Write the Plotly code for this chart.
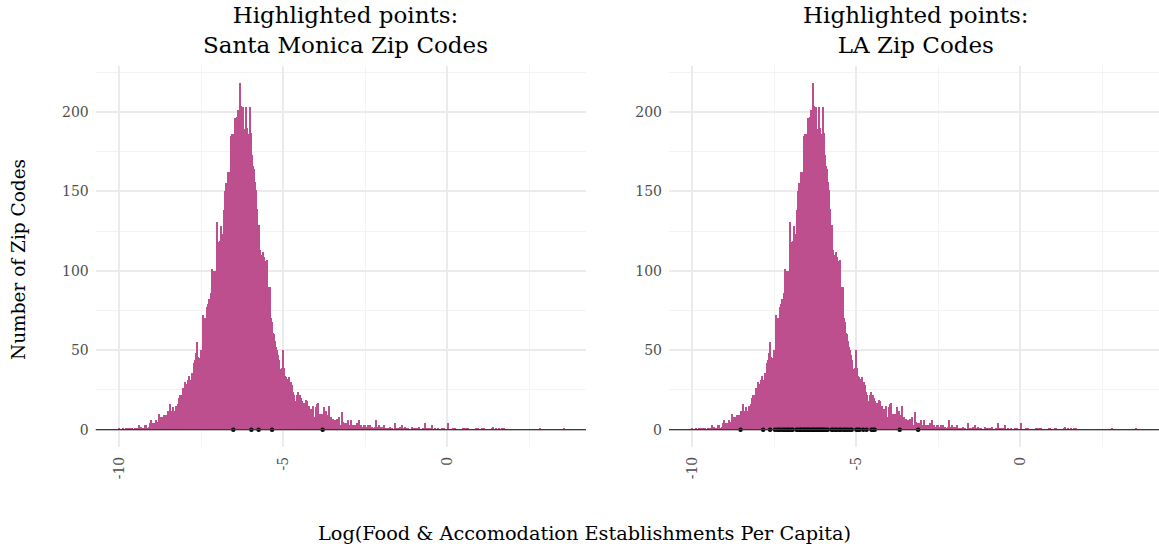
import plotly.graph_objects as go

# Histogram bin counts (one bin per ~0.0304 log units, starting at -10.0)
bin_start = -10.0
bin_width = 0.0304
counts = [
    1, 0, 0, 0, 1, 0, 0, 1, 0, 1,
    0, 1, 1, 1, 0, 0, 1, 0, 1, 0,
    3, 1, 2, 1, 1, 0, 3, 3, 0, 1,
    2, 4, 6, 3, 4, 4, 4, 6, 4, 5,
    10, 8, 7, 8, 7, 9, 9, 9, 9, 12,
    9, 16, 10, 12, 14, 12, 12, 15, 14, 16,
    20, 22, 18, 22, 26, 23, 30, 27, 29, 31,
    34, 30, 31, 36, 35, 42, 44, 48, 55, 46,
    43, 45, 50, 48, 72, 65, 70, 68, 77, 79,
    82, 80, 86, 101, 99, 100, 93, 100, 131, 107,
    118, 119, 128, 118, 123, 138, 150, 155, 150, 162,
    162, 158, 185, 186, 181, 186, 196, 190, 197, 201,
    179, 218, 204, 198, 203, 186, 189, 203, 190, 181,
    186, 203, 187, 173, 166, 164, 156, 151, 139, 129,
    129, 113, 110, 108, 112, 109, 106, 88, 107, 90,
    90, 90, 70, 68, 61, 60, 56, 52, 50, 47,
    44, 38, 37, 39, 50, 39, 34, 33, 29, 32,
    33, 26, 30, 28, 24, 22, 18, 16, 22, 24,
    14, 22, 20, 18, 17, 17, 16, 19, 18, 10,
    15, 12, 13, 10, 15, 6, 8, 14, 16, 17,
    10, 9, 10, 10, 9, 14, 10, 12, 8, 9,
    15, 8, 8, 6, 7, 6, 5, 6, 7, 4,
    8, 3, 3, 11, 5, 4, 3, 4, 3, 6,
    3, 2, 6, 3, 3, 2, 3, 2, 4, 2,
    6, 3, 3, 2, 2, 3, 3, 2, 1, 3,
    2, 3, 1, 2, 1, 1, 2, 6, 1, 2,
    3, 2, 1, 2, 1, 3, 1, 1, 1, 0,
    1, 2, 0, 1, 0, 0, 4, 1, 1, 1,
    1, 2, 0, 3, 1, 0, 2, 0, 1, 1,
    0, 0, 0, 2, 1, 1, 1, 1, 1, 0,
    2, 0, 0, 0, 1, 0, 4, 0, 1, 0,
    1, 1, 0, 3, 0, 0, 1, 0, 0, 1,
    0, 0, 0, 1, 0, 1, 0, 0, 0, 4,
    0, 0, 0, 0, 1, 1, 1, 0, 0, 0,
    0, 0, 0, 0, 1, 0, 1, 1, 1, 1,
    0, 0, 0, 0, 0, 0, 0, 1, 1, 1,
    0, 0, 0, 1, 0, 1, 0, 0, 0, 0,
    0, 0, 0, 1, 2, 0, 0, 1, 0, 0,
    1, 0, 0, 1, 0, 1, 0, 0, 0, 0,
    0, 0, 0, 0, 0, 0, 0, 0, 0, 0,
    0, 0, 0, 0, 0, 0, 0, 0, 0, 0,
    0, 0, 0, 0, 0, 0, 0, 0, 0, 0,
    0, 1, 0, 0, 0, 0, 0, 0, 0, 0,
    0, 0, 0, 0, 0, 0, 0, 0, 0, 0,
    0, 0, 0, 0, 0, 1, 0, 0,
]
bin_centers = [bin_start + i * bin_width for i in range(len(counts))]

# Highlighted zip codes (log values)
santa_monica = [-6.52, -5.97, -5.75, -5.34, -3.80]
los_angeles = [
    -8.53, -7.84, -7.63, -7.48, -7.41, -7.36, -7.31, -7.24, -7.20, -7.14,
    -7.09, -7.05, -6.99, -6.94, -6.82, -6.79, -6.73, -6.70, -6.67, -6.61,
    -6.58, -6.53, -6.50, -6.45, -6.43, -6.37, -6.34, -6.29, -6.27, -6.21,
    -6.18, -6.13, -6.10, -6.05, -6.02, -5.97, -5.92, -5.87, -5.75, -5.71,
    -5.64, -5.59, -5.52, -5.47, -5.39, -5.33, -5.27, -5.20, -5.14, -5.00,
    -4.95, -4.90, -4.79, -4.69, -4.54, -4.49, -4.44, -3.68, -3.12,
]

panel_titles = ["Highlighted points:<br>Santa Monica Zip Codes",
                "Highlighted points:<br>LA Zip Codes"]
x_tick_vals = [-10, -5, 0]
x_tick_text = ["-10", "-5", "0"]
x_minor_vals = [-7.5, -2.5, 2.5]
y_tick_vals = [0, 50, 100, 150, 200]
y_minor_vals = [25, 75, 125, 175, 225]

BAR_COLOR = "#BD4F8F"
FONT = "DejaVu Serif"
TICK_COLOR = "#4D4D4D"

fig = go.Figure()
for i, pts in enumerate([santa_monica, los_angeles]):
    xa = "x" if i == 0 else "x2"
    ya = "y" if i == 0 else "y2"
    fig.add_trace(go.Bar(x=bin_centers, y=counts, width=bin_width,
                         marker=dict(color=BAR_COLOR, line=dict(width=0)),
                         xaxis=xa, yaxis=ya, showlegend=False))
    fig.add_shape(type="line", xref=f"{xa} domain", yref=ya,
                  x0=0, x1=1, y0=0, y1=0,
                  line=dict(color="#3A3A3A", width=1.2), layer="above")
    fig.add_trace(go.Scatter(x=pts, y=[0] * len(pts), mode="markers",
                             marker=dict(color="black", size=4.5),
                             xaxis=xa, yaxis=ya, showlegend=False))

xaxis_common = dict(
    range=[-10.71, 4.22], tickmode="array", tickvals=x_tick_vals,
    ticktext=x_tick_text, tickangle=-90, showgrid=True,
    gridcolor="#EBEBEB", gridwidth=1.6, zeroline=False, showline=False,
    ticks="", ticklabelstandoff=6,
    tickfont=dict(family=FONT, size=14, color=TICK_COLOR),
    minor=dict(tickmode="array", tickvals=x_minor_vals, showgrid=True,
               gridcolor="#F3F3F3", gridwidth=0.9, ticks=""),
)
yaxis_common = dict(
    range=[-10.9, 228.9], tickmode="array", tickvals=y_tick_vals,
    showgrid=True, gridcolor="#EBEBEB", gridwidth=1.6, zeroline=False,
    showline=False, ticks="", ticklabelstandoff=6,
    tickfont=dict(family=FONT, size=14, color=TICK_COLOR),
    minor=dict(tickmode="array", tickvals=y_minor_vals, showgrid=True,
               gridcolor="#F3F3F3", gridwidth=0.9, ticks=""),
    domain=[0.1843, 0.8796],
)

fig.update_layout(
    width=1159, height=548,
    margin=dict(l=0, r=0, t=0, b=0),
    paper_bgcolor="white", plot_bgcolor="white",
    bargap=0, barmode="overlay",
    xaxis=dict(xaxis_common, domain=[0.0826, 0.5056], anchor="y"),
    yaxis=dict(yaxis_common, anchor="x"),
    xaxis2=dict(xaxis_common, domain=[0.5772, 1.0], anchor="y2"),
    yaxis2=dict(yaxis_common, anchor="x2"),
    font=dict(family=FONT),
)

fig.add_annotation(text=panel_titles[0], x=345 / 1159, y=1 - 30 / 548,
                   xref="paper", yref="paper", showarrow=False,
                   xanchor="center", yanchor="middle",
                   font=dict(family=FONT, size=23, color="black"))
fig.add_annotation(text=panel_titles[1], x=916 / 1159, y=1 - 30 / 548,
                   xref="paper", yref="paper", showarrow=False,
                   xanchor="center", yanchor="middle",
                   font=dict(family=FONT, size=23, color="black"))
fig.add_annotation(text="Number of Zip Codes", x=18 / 1159, y=1 - 260 / 548,
                   xref="paper", yref="paper", showarrow=False, textangle=-90,
                   xanchor="center", yanchor="middle",
                   font=dict(family=FONT, size=18.5, color="black"))
fig.add_annotation(text="Log(Food &amp; Accomodation Establishments Per Capita)",
                   x=584 / 1159, y=1 - 533 / 548,
                   xref="paper", yref="paper", showarrow=False,
                   xanchor="center", yanchor="middle",
                   font=dict(family=FONT, size=19.3, color="black"))

fig.write_html("out.html")
